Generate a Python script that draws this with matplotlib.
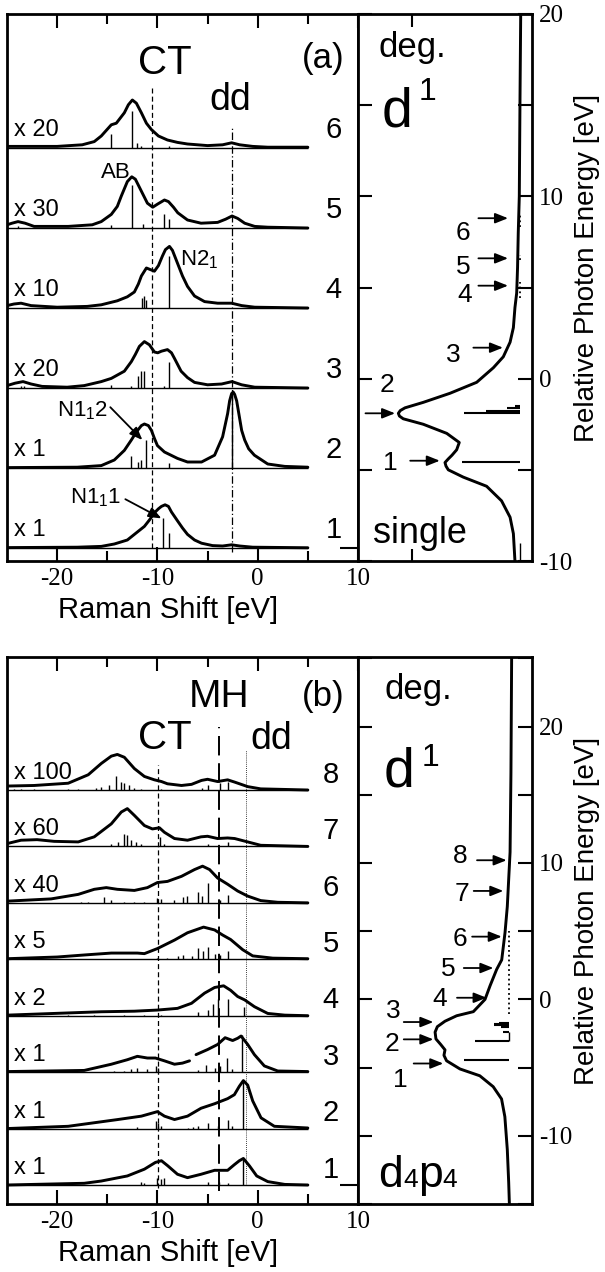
import numpy as np
import matplotlib
matplotlib.use("Agg")
import matplotlib.pyplot as plt

plt.rcParams["font.family"] = ["Liberation Sans", "DejaVu Sans"]
plt.rcParams["mathtext.fontset"] = "custom"
plt.rcParams["mathtext.rm"] = "Liberation Sans"
plt.rcParams["mathtext.it"] = "Liberation Sans:italic"
plt.rcParams["axes.unicode_minus"] = False

# ============================ data ==========================================
RAMAN_RANGE = (-25.0, 5.0)          # extent of every Raman trace / baseline

# ---- (a) single-site model: Raman spectra 1..6 (bottom -> top) -------------
a_scale = ["x 1", "x 1", "x 20", "x 10", "x 30", "x 20"]

a1_x = [-25, -18, -15.6, -14.3, -13.0, -12.3, -11.3, -10.8, -10.3, -9.9, -9.6, -9.24, -8.9,
        -8.6, -8.0, -7.5, -7.0, -6.3, -5.6, -4.5, -3.5, -2.6, -1.8, -0.5, 5]
a1_y = [0.005, 0.01, 0.02, 0.05, 0.10, 0.17, 0.27, 0.35, 0.44, 0.49, 0.52, 0.54, 0.52,
        0.45, 0.34, 0.25, 0.17, 0.10, 0.06, 0.03, 0.025, 0.04, 0.025, 0.01, 0.003]
a1_sx = [-9.4, -8.8]
a1_sh = [0.37, 0.19]

a2_x = [-25, -18, -15.6, -14.3, -13.3, -12.6, -12.1, -11.6, -11.3, -10.9, -10.6, -10.3, -10.0,
        -9.3, -8.0, -7.0, -5.6, -4.3, -3.5, -3.0, -2.8, -2.6, -2.45, -2.3, -2.1, -1.83,
        -1.6, -1.3, -0.9, -0.33, 1.0, 2.7, 5]
a2_y = [0.005, 0.01, 0.03, 0.10, 0.22, 0.35, 0.45, 0.53, 0.55, 0.53, 0.47, 0.37, 0.28,
        0.20, 0.12, 0.075, 0.075, 0.16, 0.39, 0.68, 0.84, 0.93, 0.95, 0.92, 0.84, 0.64,
        0.47, 0.35, 0.24, 0.16, 0.05, 0.02, 0.01]
a2_sx = [-12.6, -11.9, -11.6, -11.1, -8.8, -2.56]
a2_sh = [0.15, 0.08, 0.10, 0.35, 0.06, 0.94]

a3_x = [-25, -24.2, -23.4, -22.6, -21.5, -19, -17.3, -15.6, -14.6, -13.3, -12.6, -12.2, -11.8,
        -11.3, -10.8, -10.3, -9.97, -9.6, -9.0, -8.6, -8.3, -7.64, -7.0, -6.3, -5.0, -3.6,
        -2.56, -1.6, -0.3, 5]
a3_y = [0.03, 0.06, 0.08, 0.05, 0.02, 0.01, 0.03, 0.08, 0.12, 0.21, 0.33, 0.42, 0.52,
        0.58, 0.54, 0.45, 0.44, 0.46, 0.48, 0.44, 0.37, 0.21, 0.13, 0.07, 0.04, 0.05,
        0.08, 0.04, 0.01, 0.0]
a3_sx = [-23.6, -23.3, -14.6, -12.6, -11.9, -11.6, -11.3, -9.3, -8.8]
a3_sh = [0.03, 0.03, 0.04, 0.03, 0.15, 0.21, 0.21, 0.03, 0.33]

a4_x = [-25, -24.3, -23.6, -22.6, -20, -17, -15.6, -14.0, -13.0, -12.3, -11.9, -11.6, -11.1,
        -10.7, -10.3, -9.9, -9.5, -9.2, -8.8, -8.5, -8.0, -7.5, -7.0, -6.3, -5.3, -4.0,
        -2.6, -1.6, -0.3, 5]
a4_y = [0.03, 0.05, 0.06, 0.03, 0.01, 0.02, 0.04, 0.09, 0.14, 0.20, 0.30, 0.40, 0.50,
        0.48, 0.46, 0.53, 0.65, 0.73, 0.77, 0.72, 0.56, 0.40, 0.27, 0.15, 0.08, 0.06,
        0.06, 0.03, 0.01, 0.0]
a4_sx = [-11.5, -11.3, -11.1, -8.8]
a4_sh = [0.12, 0.15, 0.10, 0.65]

a5_x = [-25, -24.5, -23.9, -23.2, -22.3, -18.9, -16.5, -15.6, -14.6, -14.0, -13.6, -13.0,
        -12.56, -12.2, -11.6, -11.0, -10.47, -9.97, -9.3, -8.9, -8.4, -7.97, -7.0, -5.65,
        -4.0, -3.2, -2.56, -2.0, -1.3, -0.3, 1, 5]
a5_y = [0.04, 0.06, 0.08, 0.06, 0.02, 0.02, 0.04, 0.08, 0.17, 0.27, 0.40, 0.58,
        0.64, 0.61, 0.46, 0.31, 0.26, 0.30, 0.35, 0.33, 0.26, 0.19, 0.10, 0.06,
        0.07, 0.11, 0.15, 0.12, 0.06, 0.02, 0.01, 0.0]
a5_sx = [-23.9, -14.6, -12.5, -11.4, -9.3, -8.8]
a5_sh = [0.03, 0.04, 0.54, 0.05, 0.17, 0.11]

a6_x = [-25, -20, -17.5, -16.3, -15.6, -14.6, -14.1, -13.3, -12.9, -12.5, -12.1, -11.6, -11.1,
        -10.6, -9.9, -9.0, -8.0, -7.0, -5.0, -3.5, -2.6, -1.8, -0.5, 1, 5]
a6_y = [0.02, 0.02, 0.04, 0.08, 0.15, 0.29, 0.31, 0.44, 0.54, 0.60, 0.56, 0.44, 0.31,
        0.23, 0.15, 0.10, 0.07, 0.05, 0.03, 0.04, 0.065, 0.04, 0.02, 0.01, 0.01]
a6_sx = [-14.6, -12.5, -12.0, -11.6, -8.8]
a6_sh = [0.17, 0.46, 0.06, 0.03, 0.02]

# ---- (a) absorption spectrum (photon energy vs. intensity) -----------------
a_abs_E = [19.9, 15.3, 10.0, 8.0, 6.1, 4.7, 3.9, 2.8, 2.0, 1.2, 0.6, -0.2, -0.8, -1.3, -1.6,
           -1.75, -1.9, -2.05, -2.2, -2.5, -3.0, -3.5, -3.9, -4.2, -4.4, -4.6, -4.8, -5.0,
           -5.4, -5.9, -6.7, -7.6, -8.5, -10.0]
a_abs_I = [0.065, 0.069, 0.073, 0.079, 0.083, 0.088, 0.098, 0.107, 0.126, 0.165, 0.222,
           0.318, 0.471, 0.625, 0.73, 0.757, 0.768, 0.762, 0.74, 0.625, 0.49, 0.418, 0.433,
           0.46, 0.481, 0.50, 0.494, 0.481, 0.395, 0.261, 0.175, 0.126, 0.107, 0.098]
a_stick_base = 0.069
a_stick_E = [-4.59, -1.90, -1.75, -1.62, -1.48]
a_stick_len = [0.335, 0.322, 0.197, 0.077, 0.029]
a_weak_lo = [4.4, 6.5, 8.3, -10.0]
a_weak_hi = [5.3, 6.8, 9.0, -9.0]
a_weak_ls = [":", ":", ":", "-"]
a_arrow_E = [-4.5, -1.9, 1.7, 5.1, 6.6, 8.8]
a_arrow_head = [0.53, 0.787, 0.167, 0.138, 0.138, 0.138]
a_arrow_lab_I = [0.816, 0.835, 0.454, 0.385, 0.397, 0.397]
a_arrow_lab_E = [-4.6, -0.35, 1.3, 4.6, 6.1, 8.0]

# ---- (b) d4p4 model: Raman spectra 1..8 (bottom -> top) --------------------
b_scale = ["x 1", "x 1", "x 1", "x 2", "x 5", "x 40", "x 60", "x 100"]

b1_x = [-25, -17.3, -15.6, -13.0, -11.3, -10.2, -9.6, -8.97, -8.0, -7.0, -5.65, -4.3,
        -3.0, -2.33, -1.83, -1.43, -0.83, -0.1, 1.0, 2.7, 5]
b1_y = [0.0, 0.03, 0.07, 0.16, 0.28, 0.40, 0.43, 0.34, 0.19, 0.13, 0.19, 0.26,
        0.26, 0.36, 0.43, 0.47, 0.34, 0.16, 0.06, 0.01, 0.0]
b1_sx = [-11.6, -11.3, -10.0, -9.6, -9.3, -4.98, -3.82, -2.99, -1.43]
b1_sh = [0.05, 0.04, 0.12, 0.10, 0.12, 0.06, 0.05, 0.03, 0.47]

b2_x = [-25, -18.9, -13.95, -11.6, -10.0, -9.3, -8.3, -7.0, -5.65, -4.3, -3.0, -2.33, -1.83,
        -1.43, -1.0, -0.5, 0.33, 1.66, 5]
b2_y = [0.0, 0.04, 0.16, 0.22, 0.30, 0.22, 0.16, 0.22, 0.36, 0.44, 0.53, 0.60, 0.75,
        0.85, 0.77, 0.49, 0.19, 0.04, 0.01]
b2_sx = [-12.0, -10.1, -9.97, -9.6, -7.0, -6.5, -5.98, -4.98, -3.99, -3.0, -2.56, -1.43]
b2_sh = [0.02, 0.14, 0.10, 0.05, 0.01, 0.02, 0.04, 0.10, 0.05, 0.15, 0.04, 0.83]

b3_x = [-25, -17.3, -14.6, -13.0, -12.0, -11.0, -10.2, -9.3, -8.3, -7.5, -6.8, np.nan,
        -6.15, -5.0, -4.0, -3.25, -2.5, -2.0, -1.66, -1.0, -0.33, 0.66, 2.0, 5]
b3_y = [0.01, 0.03, 0.14, 0.22, 0.28, 0.25, 0.25, 0.20, 0.14, 0.16, 0.20, np.nan,
        0.31, 0.40, 0.49, 0.61, 0.56, 0.60, 0.64, 0.49, 0.31, 0.11, 0.02, 0.01]
b3_sx = [-14.3, -13.3, -12.6, -12.0, -11.0, -10.1, -9.97, -5.98, -5.15, -4.3, -3.8, -3.06,
         -2.56, -1.59]
b3_sh = [0.02, 0.02, 0.05, 0.08, 0.06, 0.10, 0.08, 0.03, 0.12, 0.08, 0.10, 0.25,
         0.05, 0.65]

b4_x = [-25, -15.6, -12.3, -10.0, -8.0, -6.6, -5.3, -4.3, -3.4, -2.7, -2.0, -1.3, -0.33,
        1.0, 2.7, 5]
b4_y = [0.01, 0.07, 0.08, 0.10, 0.13, 0.22, 0.40, 0.50, 0.53, 0.45, 0.34, 0.28, 0.16,
        0.04, 0.01, 0.0]
b4_sx = [-18.9, -16.3, -13.3, -11.3, -9.6, -6.0, -5.0, -4.5, -4.0, -3.0, -1.33]
b4_sh = [0.01, 0.01, 0.01, 0.01, 0.02, 0.06, 0.10, 0.20, 0.30, 0.30, 0.15]

b5_x = [-25, -20, -17, -14.6, -12, -11.3, -10.0, -8.3, -7.0, -5.4, -4.3, -3.5, -2.7,
        -1.5, -0.5, 1.5, 5]
b5_y = [0.01, 0.04, 0.08, 0.11, 0.11, 0.10, 0.19, 0.34, 0.47, 0.57, 0.52, 0.43, 0.35,
        0.17, 0.06, 0.02, 0.01]
b5_sx = [-18, -16, -12, -10, -9, -7.97, -7.5, -6.6, -6.0, -5.5, -5.0, -4.3, -3.8, -3.0]
b5_sh = [0.01, 0.01, 0.01, 0.02, 0.02, 0.05, 0.08, 0.05, 0.20, 0.14, 0.22, 0.10, 0.08, 0.14]

b6_x = [-25, -20.6, -17.9, -16.3, -15.1, -14.0, -12.3, -11.0, -10.0, -9.0, -7.6, -6.3, -5.5,
        -4.8, -4.0, -3.0, -2.0, -1.0, 0.3, 2.0, 5]
b6_y = [0.03, 0.07, 0.15, 0.24, 0.27, 0.24, 0.22, 0.27, 0.36, 0.38, 0.47, 0.59, 0.65,
        0.59, 0.44, 0.33, 0.21, 0.12, 0.04, 0.01, 0.0]
b6_sx = [-17.6, -16.9, -15.3, -14.6, -13.3, -12.3, -11.3, -10.0, -9.6, -8.3, -7.5, -7.1,
         -6.0, -5.6, -5.0, -3.8, -3.0]
b6_sh = [0.02, 0.02, 0.10, 0.05, 0.02, 0.02, 0.02, 0.09, 0.06, 0.05, 0.10, 0.12,
         0.20, 0.13, 0.36, 0.05, 0.14]

b7_x = [-25, -23.6, -22.0, -20.3, -17.9, -16.3, -14.6, -13.6, -13.0, -12.3, -11.3, -10.5,
        -9.8, -9.3, -8.3, -7.0, -5.65, -5.0, -4.0, -3.0, -2.3, -1.0, 0.3, 5]
b7_y = [0.05, 0.11, 0.12, 0.09, 0.08, 0.17, 0.40, 0.61, 0.67, 0.55, 0.37, 0.31,
        0.33, 0.25, 0.14, 0.11, 0.17, 0.18, 0.14, 0.15, 0.14, 0.08, 0.02, 0.0]
b7_sx = [-22.0, -21.0, -14.6, -13.9, -13.3, -13.0, -12.6, -12.1, -11.6, -9.7, -9.3, -5.0, -3.0]
b7_sh = [0.01, 0.01, 0.04, 0.08, 0.22, 0.20, 0.12, 0.08, 0.05, 0.17, 0.05, 0.05, 0.08]

b8_x = [-25, -22.3, -18.9, -16.9, -15.6, -14.6, -14.0, -13.3, -12.3, -11.3, -10.3, -9.6,
        -9.0, -7.6, -6.6, -5.6, -5.0, -4.0, -3.0, -2.3, -1.0, 0.3, 5]
b8_y = [0.07, 0.08, 0.12, 0.27, 0.47, 0.60, 0.63, 0.58, 0.38, 0.24, 0.18, 0.15,
        0.11, 0.08, 0.10, 0.17, 0.19, 0.15, 0.18, 0.14, 0.06, 0.02, 0.0]
b8_sx = [-24.3, -23.6, -22.3, -18.9, -17.9, -16.1, -15.6, -14.8, -14.1, -13.6, -13.3,
         -12.8, -12.3, -11.6, -9.6, -5.6, -5.0, -3.8, -3.0]
b8_sh = [0.01, 0.01, 0.01, 0.01, 0.01, 0.04, 0.06, 0.09, 0.24, 0.14, 0.12,
         0.08, 0.04, 0.02, 0.01, 0.03, 0.09, 0.12, 0.15]

# ---- (b) absorption spectrum -----------------------------------------------
b_abs_E = [25.1, 16.6, 10.8, 6.8, 4.9, 2.9, 2.2, 1.0, 0.0, -0.9, -1.2, -1.6, -2.0, -2.4,
           -2.9, -3.3, -3.7, -4.1, -4.5, -5.1, -5.6, -6.4, -7.3, -8.6, -11.0, -13.4, -15.0]
b_abs_I = [0.117, 0.121, 0.126, 0.142, 0.155, 0.174, 0.203, 0.241, 0.27, 0.337, 0.433,
           0.50, 0.544, 0.557, 0.552, 0.525, 0.50, 0.506, 0.491, 0.414, 0.30, 0.223,
           0.175, 0.156, 0.142, 0.134, 0.13]
b_stick_base = 0.13
b_stick_E = [-4.47, -3.07, -2.4, -1.7, -1.8, -1.9, -2.0]
b_stick_len = [0.26, 0.20, 0.035, 0.06, 0.086, 0.086, 0.05]
b_weak_lo = [-1.1, -3.07]
b_weak_hi = [5.0, -2.4]
b_weak_ls = [":", "-"]
b_arrow_E = [-4.7, -2.93, -1.66, 0.12, 2.3, 4.6, 7.95, 10.2]
b_arrow_head = [0.51, 0.567, 0.567, 0.261, 0.222, 0.174, 0.165, 0.146]
b_arrow_lab_I = [0.759, 0.807, 0.797, 0.529, 0.481, 0.414, 0.40, 0.414]
b_arrow_lab_E = [-5.9, -3.3, -0.86, 0.0, 2.2, 4.4, 7.7, 10.5]

# ============================ drawing =======================================
W, H = 605, 1272
fig = plt.figure(figsize=(W / 100, H / 100), dpi=100)


def px_axes(x0, y0, x1, y1):
    return fig.add_axes([x0 / W, 1 - y1 / H, (x1 - x0) / W, (y1 - y0) / H])


SERIF = "Liberation Serif"
ARROW = dict(arrowstyle="-|>,head_length=0.55,head_width=0.22", lw=1.3, color="k",
             mutation_scale=14, shrinkA=0, shrinkB=0)
CURVE_LW = 2.1


def style_spines(ax):
    for s in ax.spines.values():
        s.set_linewidth(2.0)


def raman_panel(ax, spectra, scales, ylim, lab_dy, num_dy, num_x):
    ax.set_xlim(-25, 10)
    ax.set_ylim(*ylim)
    for i, (cx, cy, sx, sh) in enumerate(spectra):
        ax.hlines(i, *RAMAN_RANGE, color="k", lw=1.0)
        ax.vlines(sx, i, i + np.asarray(sh), color="k", lw=1.0)
        ax.plot(cx, i + np.asarray(cy, dtype=float), color="k", lw=CURVE_LW,
                solid_joinstyle="round", solid_capstyle="round")
        ax.text(-24.3, i + lab_dy, scales[i], fontsize=17, ha="left", va="center")
        ax.text(num_x, i + num_dy, str(i + 1), fontsize=21, ha="center", va="center")
    ax.set_xticks([-20, -10, 0, 10])
    ax.set_xticklabels(["-20", "-10", "0", "10"])
    ax.set_xticks([-15, -5, 5], minor=True)
    ax.tick_params(axis="x", which="both", direction="in", top=True, bottom=True,
                   width=1.5, labelsize=18, pad=5, labelfontfamily=SERIF)
    ax.tick_params(axis="x", which="major", length=10)
    ax.tick_params(axis="x", which="minor", length=7)
    ax.set_yticks([0])
    ax.tick_params(axis="y", direction="in", left=False, right=True, labelleft=False,
                   length=13, width=1.5)
    ax.text(0.46, -0.09, "Raman Shift [eV]", transform=ax.transAxes, fontsize=21,
            ha="center", va="center")
    style_spines(ax)


def absorption_panel(ax, E, I, ylim, base, sE, sL, wlo, whi, wls,
                     arE, arHead, labI, labE, top_tick):
    ax.set_xlim(1, 0)
    ax.set_ylim(*ylim)
    ax.plot(I, E, color="k", lw=CURVE_LW, solid_joinstyle="round")
    ax.hlines(sE, base, base + np.asarray(sL), color="k", lw=1.5)
    for lo, hi, ls in zip(wlo, whi, wls):
        ax.vlines(base, lo, hi, color="k", lw=1.0 if ls == "-" else 1.3, linestyles=ls)
    for k, (e, h, li, le) in enumerate(zip(arE, arHead, labI, labE)):
        ax.annotate("", xy=(h, e), xytext=(h + 0.17, e), arrowprops=ARROW)
        ax.text(li, le, str(k + 1), fontsize=19, ha="center", va="center")
    lo, hi = ylim
    ax.set_yticks(np.arange(np.ceil(lo / 5) * 5, hi + 0.1, 5))
    ax.set_yticklabels([f"{v:.0f}" if v % 10 == 0 else "" for v in ax.get_yticks()])
    ax.tick_params(axis="y", direction="in", left=True, right=True, labelleft=False,
                   labelright=True, length=10, width=1.5, labelsize=18, pad=5,
                   labelfontfamily=SERIF)
    if top_tick is None:
        ax.set_xticks([])
    else:
        ax.set_xticks([top_tick])
        ax.tick_params(axis="x", direction="in", top=True, bottom=True,
                       labelbottom=False, length=9, width=1.5)
    ax.text(1.316, 0.535, "Relative Photon Energy [eV]", transform=ax.transAxes,
            rotation=90, fontsize=20, ha="center", va="center")
    style_spines(ax)


# ---------------------------- panel (a) -------------------------------------
axA = px_axes(7, 14, 358, 561)
axA2 = px_axes(358, 14, 532, 561)

a_spectra = [(a1_x, a1_y, a1_sx, a1_sh), (a2_x, a2_y, a2_sx, a2_sh),
             (a3_x, a3_y, a3_sx, a3_sh), (a4_x, a4_y, a4_sx, a4_sh),
             (a5_x, a5_y, a5_sx, a5_sh), (a6_x, a6_y, a6_sx, a6_sh)]
raman_panel(axA, a_spectra, a_scale, (-0.1625, 6.675), 0.23, 0.22, 7.6)
axA.vlines(-10.5, 0, 5.75, color="k", lw=0.9, linestyles=(0, (4, 2.5)))
axA.vlines(-2.6, -0.05, 5.26, color="k", lw=0.9, linestyles=(0, (6, 2, 1, 2)))
axA.text(-9.3, 6.06, "CT", fontsize=29, ha="center", va="center")
axA.text(-2.7, 5.6, "dd", fontsize=27, ha="center", va="center")
axA.text(6.5, 6.12, "(a)", fontsize=25, ha="center", va="center")
axA.text(-14.1, 4.69, "AB", fontsize=16, ha="center", va="center")
axA.text(-5.8, 3.6, r"N2$_\mathregular{1}$", fontsize=16, ha="center", va="center")
axA.text(-17.5, 1.72, r"N1$_\mathregular{1}$2", fontsize=16, ha="center", va="center")
axA.annotate("", xy=(-11.5, 1.35), xytext=(-14.7, 1.76), arrowprops=ARROW)
axA.text(-16.2, 0.63, r"N1$_\mathregular{1}$1", fontsize=16, ha="center", va="center")
axA.annotate("", xy=(-9.6, 0.37), xytext=(-13.2, 0.61), arrowprops=ARROW)

absorption_panel(axA2, a_abs_E, a_abs_I, (-10, 20), a_stick_base, a_stick_E, a_stick_len,
                 a_weak_lo, a_weak_hi, a_weak_ls, a_arrow_E, a_arrow_head,
                 a_arrow_lab_I, a_arrow_lab_E, 0.69)
axA2.text(0.31, 0.938, "deg.", transform=axA2.transAxes, fontsize=25, ha="center", va="center")
axA2.text(0.136, 0.794, "d", transform=axA2.transAxes, fontsize=40, ha="left", va="baseline")
axA2.text(0.351, 0.843, "1", transform=axA2.transAxes, fontsize=23, ha="left", va="baseline")
axA2.text(0.356, 0.051, "single", transform=axA2.transAxes, fontsize=26, ha="center",
          va="center")

# ---------------------------- panel (b) -------------------------------------
axB = px_axes(7, 657, 358, 1204)
axB2 = px_axes(358, 657, 532, 1204)

b_spectra = [(b1_x, b1_y, b1_sx, b1_sh), (b2_x, b2_y, b2_sx, b2_sh),
             (b3_x, b3_y, b3_sx, b3_sh), (b4_x, b4_y, b4_sx, b4_sh),
             (b5_x, b5_y, b5_sx, b5_sh), (b6_x, b6_y, b6_sx, b6_sh),
             (b7_x, b7_y, b7_sx, b7_sh), (b8_x, b8_y, b8_sx, b8_sh)]
raman_panel(axB, b_spectra, b_scale, (-0.337, 9.357), 0.3, 0.27, 7.3)
axB.vlines(-9.9, -0.05, 7.45, color="k", lw=0.9, linestyles=(0, (4, 2.5)))
axB.vlines(-3.9, -0.1, 8.12, color="k", lw=1.4, linestyles=(0, (10, 4)))
axB.vlines(-1.2, 0, 7.7, color="k", lw=0.6, linestyles=(0, (1, 1.5)))
axB.text(-3.9, 8.65, "MH", fontsize=28, ha="center", va="center")
axB.text(-9.3, 7.93, "CT", fontsize=29, ha="center", va="center")
axB.text(1.3, 7.9, "dd", fontsize=27, ha="center", va="center")
axB.text(6.5, 8.65, "(b)", fontsize=25, ha="center", va="center")

absorption_panel(axB2, b_abs_E, b_abs_I, (-15, 25.1), b_stick_base, b_stick_E, b_stick_len,
                 b_weak_lo, b_weak_hi, b_weak_ls, b_arrow_E, b_arrow_head,
                 b_arrow_lab_I, b_arrow_lab_E, None)
axB2.text(0.345, 0.94, "deg.", transform=axB2.transAxes, fontsize=25, ha="center", va="center")
axB2.text(0.146, 0.763, "d", transform=axB2.transAxes, fontsize=40, ha="left", va="baseline")
axB2.text(0.366, 0.80, "1", transform=axB2.transAxes, fontsize=23, ha="left", va="baseline")
# "d4p4" with reduced-size 4s
for s, fs, dx in [("d", 32, 0), ("4", 19, 17.8), ("p", 32, 28.4), ("4", 19, 46.2)]:
    axB2.annotate(s, xy=(0.117, 0.0305), xycoords="axes fraction", xytext=(dx, 0),
                  textcoords="offset points", fontsize=fs, ha="left", va="baseline")

fig.savefig("out.png", dpi=100)
